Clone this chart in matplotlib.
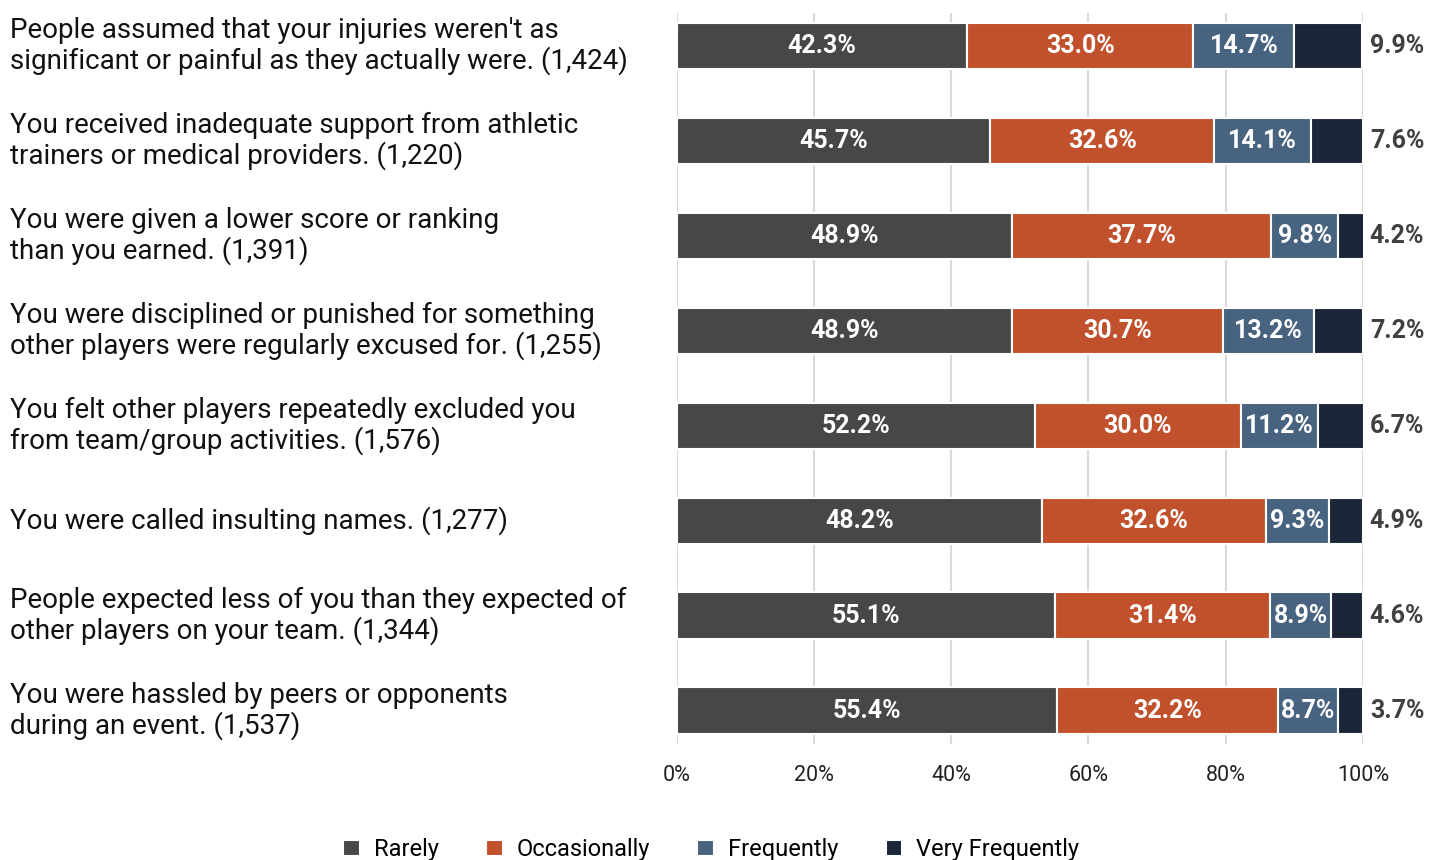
import matplotlib
matplotlib.use("Agg")
import matplotlib.pyplot as plt
from matplotlib.transforms import blended_transform_factory

# categories (top to bottom)
questions = [
    "People assumed that your injuries weren't as\nsignificant or painful as they actually were. (1,424)",
    "You received inadequate support from athletic\ntrainers or medical providers. (1,220)",
    "You were given a lower score or ranking\nthan you earned. (1,391)",
    "You were disciplined or punished for something\nother players were regularly excused for. (1,255)",
    "You felt other players repeatedly excluded you\nfrom team/group activities. (1,576)",
    "You were called insulting names. (1,277)",
    "People expected less of you than they expected of\nother players on your team. (1,344)",
    "You were hassled by peers or opponents\nduring an event. (1,537)",
]

series_names = ["Rarely", "Occasionally", "Frequently", "Very Frequently"]

# segment lengths
rarely = [42.3, 45.7, 48.9, 48.9, 52.2, 53.2, 55.1, 55.4]
occasionally = [33.0, 32.6, 37.7, 30.7, 30.0, 32.6, 31.4, 32.2]
frequently = [14.7, 14.1, 9.8, 13.2, 11.2, 9.3, 8.9, 8.7]
very_frequently = [9.9, 7.6, 4.2, 7.2, 6.7, 4.9, 4.6, 3.7]

# printed labels (the 6th "Rarely" label differs from its bar length)
rarely_labels = ["42.3%", "45.7%", "48.9%", "48.9%", "52.2%", "48.2%", "55.1%", "55.4%"]

x_ticks = [0, 20, 40, 60, 80, 100]
x_tick_labels = ["0%", "20%", "40%", "60%", "80%", "100%"]

colors = ["#474747", "#c0512c", "#48637f", "#1b2739"]

TXT_FONT = ["Roboto", "DejaVu Sans"]

fig = plt.figure(figsize=(14.4, 8.6), dpi=100)
ax = fig.add_axes([0.470, 0.135, 0.4765, 0.85])

y = list(range(len(questions)))
series = [rarely, occasionally, frequently, very_frequently]
left = [0.0] * len(y)
bars = []
for vals, name, c in zip(series, series_names, colors):
    b = ax.barh(y, vals, left=left, height=0.49, color=c, edgecolor="white",
                linewidth=1.5, label=name, zorder=3)
    bars.append(b)
    left = [l + v for l, v in zip(left, vals)]

# labels inside bars
for i in range(len(y)):
    starts = [0, rarely[i], rarely[i] + occasionally[i]]
    widths = [rarely[i], occasionally[i], frequently[i]]
    texts = [rarely_labels[i], f"{occasionally[i]:.1f}%", f"{frequently[i]:.1f}%"]
    for s, w, t in zip(starts, widths, texts):
        ax.text(s + w / 2, i, t, ha="center", va="center", color="white",
                fontsize=18, fontweight="bold", family=TXT_FONT, zorder=4)
    ax.text(101, i, f"{very_frequently[i]:.1f}%", ha="left", va="center",
            color="#404040", fontsize=18, fontweight="bold", family=TXT_FONT,
            clip_on=False)

# category labels on the left
trans = blended_transform_factory(fig.transFigure, ax.transData)
for i, q in enumerate(questions):
    ax.text(0.007, i, q, transform=trans, ha="left", va="center",
            fontsize=20, family=TXT_FONT, color="#111111", linespacing=1.1)

ax.set_xlim(0, 100)
ax.set_ylim(len(y) - 0.65, -0.35)
ax.set_xticks(x_ticks)
ax.set_xticklabels(x_tick_labels, fontsize=15.5, family=TXT_FONT, color="#222222")
ax.set_yticks([])
ax.tick_params(axis="x", length=0, pad=15)
ax.grid(axis="x", color="#d9d9d9", linewidth=1.5, zorder=0)
for sp in ax.spines.values():
    sp.set_visible(False)

fig.legend(handles=bars, labels=series_names, loc="lower center", ncol=4,
           bbox_to_anchor=(0.494, -0.026), frameon=False,
           prop={"family": TXT_FONT, "size": 17}, handlelength=0.7,
           handleheight=0.7, handletextpad=0.6, columnspacing=2.0)

fig.savefig("out.png", dpi=100)
